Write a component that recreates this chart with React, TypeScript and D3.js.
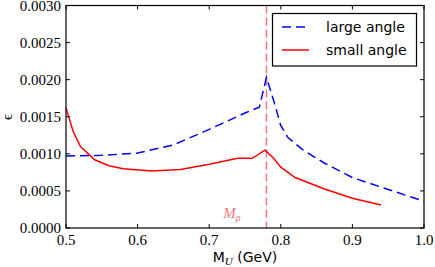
import React from 'react';
import * as d3 from 'd3';

const largeMass = [0.5, 0.55, 0.6, 0.65, 0.7, 0.75, 0.77, 0.78, 0.79, 0.8, 0.81, 0.83, 0.86, 0.9, 0.95, 1.0];
const largeEps = [0.00097, 0.00098, 0.00101, 0.00112, 0.00133, 0.00155, 0.00163, 0.00203, 0.00172, 0.00138, 0.00122, 0.00106, 0.00088, 0.00068, 0.00052, 0.00036];

const smallMass = [0.5, 0.51, 0.52, 0.54, 0.56, 0.58, 0.62, 0.66, 0.7, 0.74, 0.76, 0.778, 0.79, 0.8, 0.82, 0.86, 0.9, 0.94];
const smallEps = [0.00162, 0.0013, 0.0011, 0.00092, 0.00084, 0.0008, 0.00077, 0.00079, 0.00086, 0.00094, 0.00094, 0.00105, 0.00094, 0.00082, 0.00068, 0.00053, 0.0004, 0.00031];

const xTicks = [0.5, 0.6, 0.7, 0.8, 0.9, 1.0];
const yTicks = [0, 0.0005, 0.001, 0.0015, 0.002, 0.0025, 0.003];
const rhoMass = 0.78;

const legendItems = [
  { label: 'large angle', color: '#0000ff', dash: '9,5' },
  { label: 'small angle', color: '#ff0000', dash: undefined },
];

const left = 66, right = 424, top = 5.5, bottom = 228;
const serif: React.CSSProperties = { fontFamily: "'Liberation Serif'", fontSize: '15px' };
const sans: React.CSSProperties = { fontFamily: "'DejaVu Sans'", fontSize: '14px' };

const App: React.FC = () => {
  const x = d3.scaleLinear().domain([0.5, 1.0]).range([left, right]);
  const y = d3.scaleLinear().domain([0, 0.003]).range([bottom, top]);
  const line = d3.line<[number, number]>().x((d) => x(d[0])).y((d) => y(d[1]));
  const largePath = line(largeMass.map((m, i) => [m, largeEps[i]] as [number, number])) || '';
  const smallPath = line(smallMass.map((m, i) => [m, smallEps[i]] as [number, number])) || '';
  const tl = 4;

  return (
    <svg width="435" height="267" style={{ position: 'absolute', left: 0, top: 0, background: '#fff' }}>
      {/* M_rho marker */}
      <line x1={x(rhoMass)} x2={x(rhoMass)} y1={top} y2={bottom} stroke="#f07878" strokeWidth={1.5} strokeDasharray="8,4" />

      <path d={largePath} fill="none" stroke="#0000ff" strokeWidth={1.5} strokeDasharray="9,5" />
      <path d={smallPath} fill="none" stroke="#ff0000" strokeWidth={1.5} />

      <rect x={left} y={top} width={right - left} height={bottom - top} fill="none" stroke="#000" strokeWidth={1.2} />

      {xTicks.map((t) => (
        <g key={'x' + t}>
          <line x1={x(t)} x2={x(t)} y1={bottom} y2={bottom - tl} stroke="#000" />
          <line x1={x(t)} x2={x(t)} y1={top} y2={top + tl} stroke="#000" />
          <text x={x(t)} y={245} textAnchor="middle" style={serif}>{d3.format('.1f')(t)}</text>
        </g>
      ))}
      {yTicks.map((t) => (
        <g key={'y' + t}>
          <line x1={left} x2={left + tl} y1={y(t)} y2={y(t)} stroke="#000" />
          <line x1={right} x2={right - tl} y1={y(t)} y2={y(t)} stroke="#000" />
          <text x={left - 5} y={y(t) + 5} textAnchor="end" style={serif}>{d3.format('.4f')(t)}</text>
        </g>
      ))}

      <text x={245} y={262} textAnchor="middle" style={sans}>
        M
        <tspan dy={3} style={{ fontFamily: "'Liberation Serif'", fontStyle: 'italic', fontSize: '11px' }}>U</tspan>
        <tspan dy={-3}> (GeV)</tspan>
      </text>

      <text x={12} y={117} textAnchor="middle" style={serif} transform="rotate(-90 12 117)">ϵ</text>

      <text x={x(rhoMass) - 26} y={218} textAnchor="end" fill="#f07878" style={{ ...serif, fontStyle: 'italic' }}>
        M<tspan dy={3} style={{ fontSize: '10px' }}>ρ</tspan>
      </text>

      <rect x={272.5} y={13.5} width={144} height={52.5} fill="#fff" stroke="#000" strokeWidth={1.2} />
      {legendItems.map((it, i) => {
        const yy = 27 + i * 23;
        return (
          <g key={it.label}>
            <line x1={282} x2={309} y1={yy} y2={yy} stroke={it.color} strokeWidth={1.5} strokeDasharray={it.dash} />
            <text x={326} y={yy + 5} style={sans}>{it.label}</text>
          </g>
        );
      })}
    </svg>
  );
};

export default App;
